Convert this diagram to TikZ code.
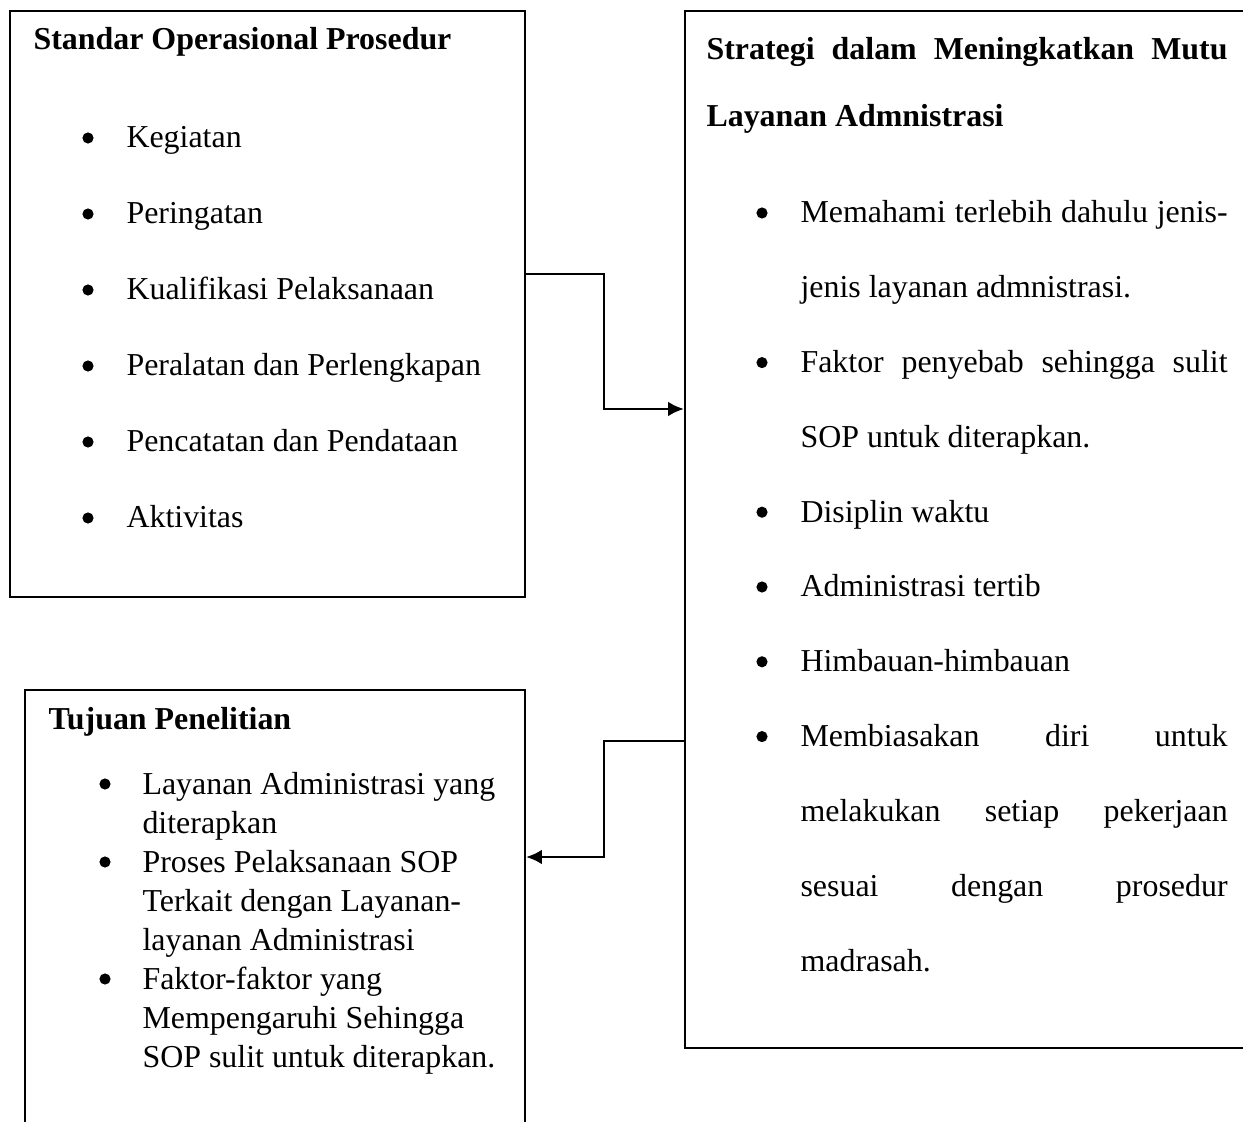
\documentclass[tikz,border=0pt]{standalone}
\usepackage{fontspec}
\setmainfont{Liberation Serif}
\usetikzlibrary{arrows.meta}

\tikzset{
  box/.style={draw, line width=0.75pt, rectangle, anchor=north west, inner sep=0pt},
  txt/.style={anchor=base west, inner sep=0pt, font=\fontsize{12}{14}\selectfont},
  bul/.style={circle, fill, inner sep=0pt, minimum size=4.2pt},
  conn/.style={line width=1.1pt, -{Latex[length=6pt,width=5.6pt]}},
}
% justified line of given width
\newcommand{\jline}[2]{\makebox[#1][s]{#2}}

\begin{document}
\begin{tikzpicture}[x=0.376pt, y=-0.376pt]
\useasboundingbox (0,0) rectangle (1243,1122);
\clip (0,0) rectangle (1243,1122);

% boxes
\node[box, minimum width=193.6pt, minimum height=220.3pt] (sop) at (9,10) {};
\node[box, minimum width=217.3pt, minimum height=389.9pt] (strategi) at (684,10) {};
\node[box, minimum width=188pt, minimum height=169.6pt] (tujuan) at (24,689) {};

% standar operasional prosedur
\node[txt, font=\fontsize{12}{14}\selectfont\bfseries] (sop-t) at (33,50) {Standar Operasional Prosedur};
\foreach \t [count=\i from 0] in {Kegiatan, Peringatan, Kualifikasi Pelaksanaan,
    Peralatan dan Perlengkapan, Pencatatan dan Pendataan, Aktivitas} {
  \node[bul] at (88,138+76*\i) {};
  \node[txt] (sop-\i) at (126,148+76*\i) {\t};
}

% strategi
\node[txt, font=\fontsize{12}{14}\selectfont\bfseries] (strategi-t1) at (706,60)
  {\jline{195.9pt}{Strategi dalam Meningkatkan Mutu}};
\node[txt, font=\fontsize{12}{14}\selectfont\bfseries] (strategi-t2) at (706,127) {Layanan Admnistrasi};
\foreach \b/\t [count=\i from 0] in {
    1/{\jline{160.6pt}{Memahami terlebih dahulu jenis-}},
    0/{jenis layanan admnistrasi.},
    1/{\jline{160.6pt}{Faktor penyebab sehingga sulit}},
    0/{SOP untuk diterapkan.},
    1/{Disiplin waktu},
    1/{Administrasi tertib},
    1/{Himbauan-himbauan},
    1/{\jline{160.6pt}{Membiasakan diri untuk}},
    0/{\jline{160.6pt}{melakukan setiap pekerjaan}},
    0/{\jline{160.6pt}{sesuai dengan prosedur}},
    0/{madrasah.}} {
  \ifnum\b=1 \node[bul] at (762,213+74.8*\i) {}; \fi
  \node[txt] (strategi-\i) at (800,223+74.8*\i) {\t};
}

% tujuan penelitian
\node[txt, font=\fontsize{12}{14}\selectfont\bfseries] (tujuan-t) at (48,730) {Tujuan Penelitian};
\foreach \b/\t [count=\i from 0] in {
    1/{Layanan Administrasi yang},
    0/{diterapkan},
    1/{Proses Pelaksanaan SOP},
    0/{Terkait dengan Layanan-},
    0/{layanan Administrasi},
    1/{Faktor-faktor yang},
    0/{Mempengaruhi Sehingga},
    0/{SOP sulit untuk diterapkan.}} {
  \ifnum\b=1 \node[bul] at (105,784+39*\i) {}; \fi
  \node[txt] (tujuan-\i) at (142,794+39*\i) {\t};
}

% connectors
\draw[conn] (sop.east |- 0,274) -- (604,274) |- (strategi.west |- 0,409);
\draw[conn] (strategi.west |- 0,741) -- (604,741) |- (tujuan.east |- 0,857);
\end{tikzpicture}
\end{document}
